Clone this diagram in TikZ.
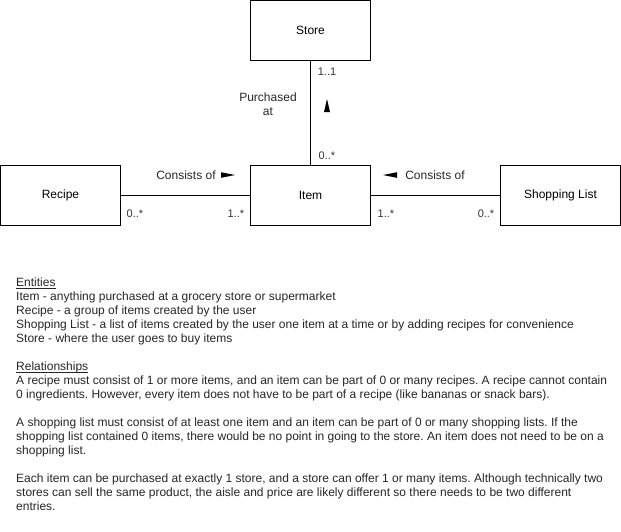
\documentclass[tikz,border=0pt]{standalone}
\usepackage{fontspec}
\setmainfont{Liberation Sans}
\frenchspacing
\newcommand{\ulbl}[1]{\setbox0\hbox{#1}\rlap{\rule[-1.6pt]{\wd0}{0.6pt}}\box0}
\begin{document}
\begin{tikzpicture}[x=1pt,y=-1pt,
  entity/.style={draw=black,line width=1pt,minimum width=120pt,minimum height=60pt,inner sep=0pt,font=\fontsize{12}{14}\selectfont},
  lbl/.style={inner sep=0pt,font=\fontsize{12}{14}\selectfont,text=black!85},
  mult/.style={inner sep=0pt,font=\fontsize{11}{13}\selectfont,text=black!80},
  conn/.style={line width=1pt,draw=black},
  tri/.style={fill=black,draw=none}]
\useasboundingbox (0,0) rectangle (621,531);
\node[entity] (store) at (310.5,30.5) {Store};
\node[entity] (item) at (310.5,195) {Item};
\node[entity] (recipe) at (60.5,195) {Recipe};
\node[entity] (shop) at (560.5,195) {Shopping List};
\draw[conn] (store) -- (item);
\draw[conn] (recipe) -- (item);
\draw[conn] (item) -- (shop);
% labels
\node[lbl,align=center] (purch) at (268,104) {Purchased\\at};
\node[mult] (m11) at (327,72) {1..1};
\node[mult] (m0s) at (327,156) {0..*};
\node[lbl] (cons1) at (186,175) {Consists of};
\node[lbl] (cons2) at (435,175) {Consists of};
\node[mult] (r0) at (135,214) {0..*};
\node[mult] (r1) at (236,214) {1..*};
\node[mult] (s1) at (386,214) {1..*};
\node[mult] (s0) at (486,214) {0..*};
% direction triangles
\coordinate (t1) at (327,99);
\path[tri] (t1) -- ++(3,13) -- ++(-6,0) -- cycle;
\coordinate (t2) at (235,175);
\path[tri] (t2) -- ++(-14,-2.8) -- ++(0,5.6) -- cycle;
\coordinate (t3) at (383,175);
\path[tri] (t3) -- ++(14,-2.8) -- ++(0,5.6) -- cycle;
% notes
\node[inner sep=0pt,anchor=north west,align=left,font=\fontsize{12}{14}\selectfont,text=black!85] (notes) at (16,278) {%
\ulbl{Entities}\\
Item - anything purchased at a grocery store or supermarket\\
Recipe - a group of items created by the user\\
Shopping List - a list of items created by the user one item at a time or by adding recipes for convenience\\
Store - where the user goes to buy items\\
\mbox{}\\
\ulbl{Relationships}\\
A recipe must consist of 1 or more items, and an item can be part of 0 or many recipes. A recipe cannot contain\\
0 ingredients. However, every item does not have to be part of a recipe (like bananas or snack bars).\\
\mbox{}\\
A shopping list must consist of at least one item and an item can be part of 0 or many shopping lists. If the\\
shopping list contained 0 items, there would be no point in going to the store. An item does not need to be on a\\
shopping list.\\
\mbox{}\\
Each item can be purchased at exactly 1 store, and a store can offer 1 or many items. Although technically two\\
stores can sell the same product, the aisle and price are likely different so there needs to be two different\\
entries.};
\end{tikzpicture}
\end{document}
